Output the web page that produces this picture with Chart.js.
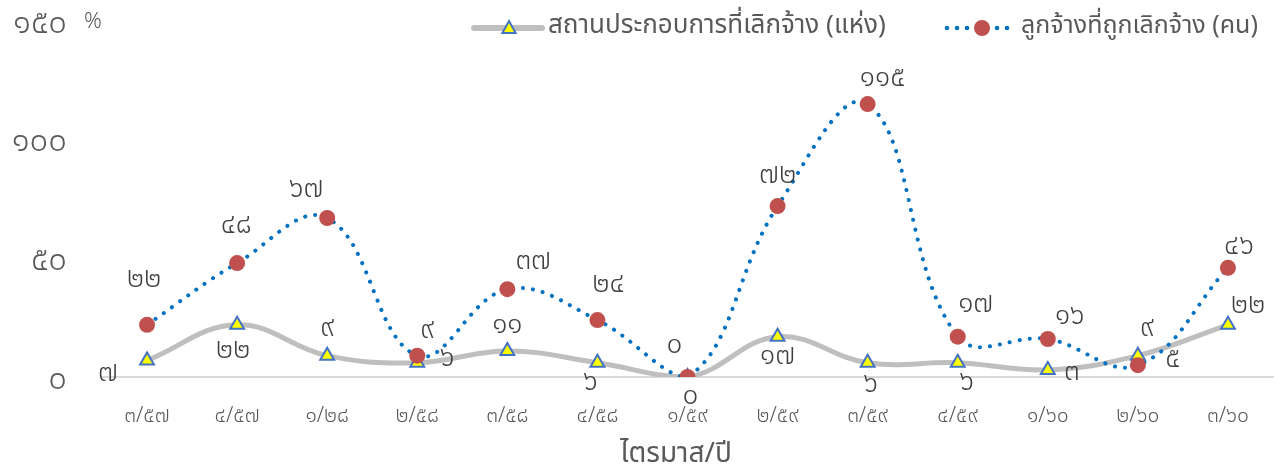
<!DOCTYPE html>
<html><head><meta charset="utf-8">
<script src="https://cdn.jsdelivr.net/npm/chart.js@4"></script>
<style>html,body{margin:0;padding:0;background:#fff}#wrap{width:1283px;height:470px}</style>
</head><body><div id="wrap"><canvas id="c"></canvas></div>
<script>
const categories = ['๓/๕๗','๔/๕๗','๑/๒๘','๒/๕๘','๓/๕๘','๔/๕๘','๑/๕๙','๒/๕๙','๓/๕๙','๔/๕๙','๑/๖๐','๒/๖๐','๓/๖๐'];
const establishments = [7, 22, 9, 6, 11, 6, 0, 17, 6, 6, 3, 9, 22];
const employees = [22, 48, 67, 9, 37, 24, 0, 72, 115, 17, 16, 5, 46];
const yTickLabels = {0:'๐', 50:'๕๐', 100:'๑๐๐', 150:'๑๕๐'};
const thaiDigits = '๐๑๒๓๔๕๖๗๘๙';
const seriesNames = ['สถานประกอบการที่เลิกจ้าง (แห่ง)', 'ลูกจ้างที่ถูกเลิกจ้าง (คน)'];
const xTitle = 'ไตรมาส/ปี';
const yUnit = '%';

// label placement offsets relative to each point (style, not data)
const estLabelOffsets = [[-39,15],[-4,28],[0,-25],[30,-2],[0,-24],[-7,22],[3,21],[0,22],[3,24],[9,22],[24,4],[9,-25],[20,-17]];
const empLabelOffsets = [[-3,-43],[-1,-36],[-21,-27],[10,-23],[26,-26],[11,-34],[-13,-30],[0,-29],[15,-24],[18,-30],[22,-21],[35,-4],[11,-19]];

const FONT = '"Noto Sans Thai","Tahoma","Leelawadee UI","Noto Sans","DejaVu Sans",sans-serif';
const toThai = n => String(n).replace(/\d/g, d => thaiDigits[+d]);

const labelPlugin = {
  id: 'dlabels',
  afterDatasetsDraw(chart) {
    const ctx = chart.ctx;
    ctx.save();
    ctx.font = '300 28px ' + FONT;
    ctx.fillStyle = '#404040';
    ctx.textAlign = 'center';
    ctx.textBaseline = 'middle';
    [estLabelOffsets, empLabelOffsets].forEach((offs, di) => {
      const meta = chart.getDatasetMeta(di);
      meta.data.forEach((pt, i) => {
        const v = chart.data.datasets[di].data[i];
        ctx.fillText(toThai(v), pt.x + offs[i][0], pt.y + offs[i][1]);
      });
    });
    ctx.restore();
  },
  afterDraw(chart) {
    const ctx = chart.ctx;
    ctx.save();
    // unit label
    ctx.font = '300 22px ' + FONT;
    ctx.fillStyle = '#595959';
    ctx.textAlign = 'center';
    ctx.textBaseline = 'middle';
    ctx.fillText(yUnit, 93, 24);
    // x axis title
    ctx.font = '28px ' + FONT;
    ctx.fillText(xTitle, 676, 456);
    // legend
    const ly = 28;
    ctx.strokeStyle = '#BFBFBF';
    ctx.lineWidth = 6;
    ctx.lineCap = 'round';
    ctx.beginPath(); ctx.moveTo(474, ly); ctx.lineTo(542, ly); ctx.stroke();
    drawTri(ctx, 509, ly, 7);
    ctx.fillStyle = '#595959';
    ctx.textAlign = 'left';
    ctx.font = '26px ' + FONT;
    ctx.fillText(seriesNames[0], 548, ly);
    ctx.fillStyle = '#0070C0';
    [947, 957, 967, 997, 1007].forEach(x => { ctx.beginPath(); ctx.arc(x, ly, 2.3, 0, Math.PI*2); ctx.fill(); });
    ctx.fillStyle = '#C0504D';
    ctx.beginPath(); ctx.arc(982, ly, 8, 0, Math.PI*2); ctx.fill();
    ctx.fillStyle = '#595959';
    ctx.font = '25px ' + FONT;
    ctx.fillText(seriesNames[1], 1021, ly);
    ctx.restore();
  }
};
function drawTri(ctx, x, y, r) {
  ctx.save();
  ctx.beginPath();
  ctx.moveTo(x, y - r);
  ctx.lineTo(x + r * 0.95, y + r * 0.7);
  ctx.lineTo(x - r * 0.95, y + r * 0.7);
  ctx.closePath();
  ctx.fillStyle = '#FFFF00';
  ctx.fill();
  ctx.lineWidth = 2;
  ctx.strokeStyle = '#4472C4';
  ctx.stroke();
  ctx.restore();
}

new Chart(document.getElementById('c'), {
  type: 'line',
  data: {
    labels: categories,
    datasets: [{
      label: seriesNames[0],
      data: establishments,
      borderColor: '#BFBFBF',
      borderWidth: 5,
      tension: 0.4,
      pointStyle: 'triangle',
      pointRadius: 8,
      pointBackgroundColor: '#FFFF00',
      pointBorderColor: '#4472C4',
      pointBorderWidth: 2,
      order: 2
    }, {
      label: seriesNames[1],
      data: employees,
      borderColor: '#0070C0',
      borderWidth: 4,
      borderDash: [0.1, 10],
      borderCapStyle: 'round',
      tension: 0.4,
      pointStyle: 'circle',
      pointRadius: 8,
      pointBackgroundColor: '#C0504D',
      pointBorderColor: '#C0504D',
      pointBorderWidth: 0,
      order: 1
    }]
  },
  options: {
    responsive: true,
    maintainAspectRatio: false,
    animation: false,
    events: [],
    layout: { autoPadding: false, padding: { top: 21, right: 10, left: 8, bottom: 0 } },
    plugins: { legend: { display: false }, tooltip: { enabled: false } },
    scales: {
      x: {
        offset: true,
        grid: { display: false, drawTicks: false },
        border: { display: true, color: '#D9D9D9', width: 2 },
        ticks: { color: '#595959', font: { family: FONT, size: 21, weight: 300, lineHeight: 1.2 }, padding: 28, maxRotation: 0 },
        afterFit(scale) { scale.height = 93; scale.paddingLeft = 0; scale.paddingRight = 0; }
      },
      y: {
        min: 0, max: 150,
        grid: { display: false, drawTicks: false },
        border: { display: false },
        ticks: { stepSize: 50, color: '#595959', font: { family: FONT, size: 33, weight: 300, lineHeight: 1 }, padding: 35,
                 labelOffset: 5, callback: v => yTickLabels[v] },
        afterFit(scale) { scale.width = 94; scale.paddingTop = 0; scale.paddingBottom = 0; }
      }
    }
  },
  plugins: [labelPlugin]
});
</script></body></html>
